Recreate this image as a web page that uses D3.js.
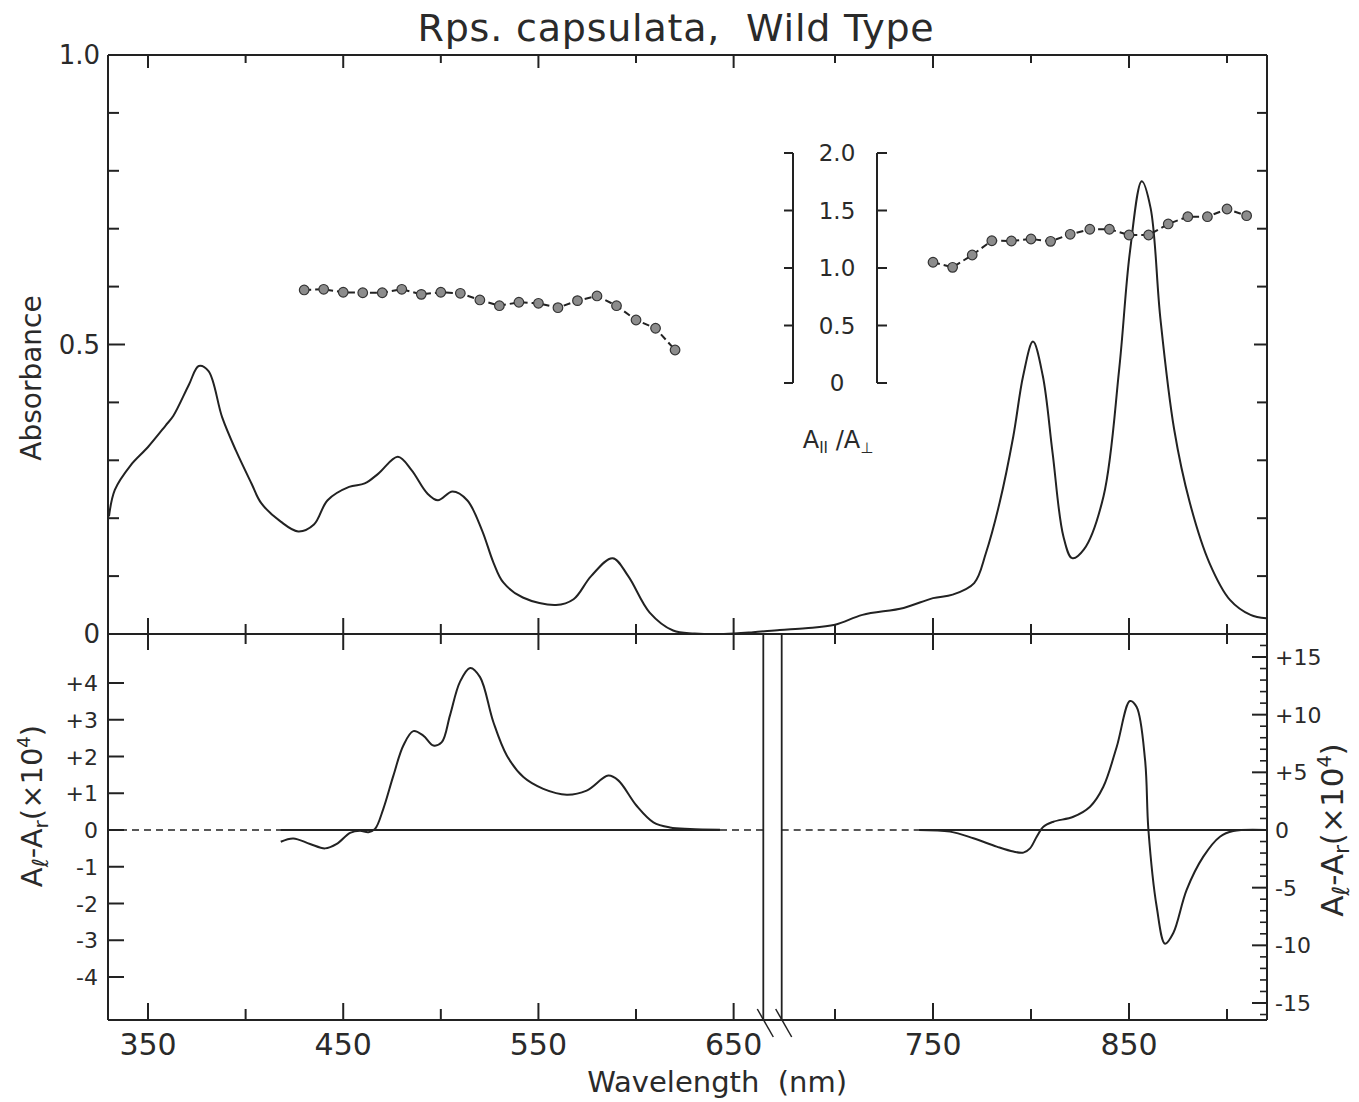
<!DOCTYPE html>
<html><head><meta charset="utf-8">
<script src="https://cdn.jsdelivr.net/npm/d3@7"></script>
<style>body{margin:0;background:#fff}svg{display:block}text{font-family:"DejaVu Sans",sans-serif;fill:#2a2a2a}</style>
</head><body><svg id="c" width="1359" height="1102"></svg>
<script>
// ---------- data ----------
const absWl  = [330,333,341,350,359,363,371,376,381,388,395,403,408,418,427,435,442,453,461,468,478,485,493,498.5,506,513.5,521,527,532,542,559,568,577,588,596,607,619,630,645,660,672,685,700,714,735,750,760,771,777,784,791,796,801,806,811,816.5,821,827,837,845,850.5,856.5,861,866,873,881,891,901.5,912,920];
const absVal = [0.203,0.249,0.291,0.323,0.360,0.377,0.431,0.463,0.454,0.374,0.317,0.260,0.226,0.194,0.177,0.189,0.231,0.254,0.260,0.277,0.306,0.283,0.243,0.231,0.246,0.231,0.180,0.123,0.089,0.063,0.050,0.060,0.100,0.131,0.100,0.037,0.006,0.001,0.000,0.003,0.007,0.010,0.016,0.033,0.045,0.062,0.068,0.088,0.140,0.227,0.342,0.446,0.505,0.446,0.313,0.169,0.131,0.146,0.238,0.458,0.661,0.782,0.736,0.545,0.354,0.227,0.123,0.059,0.033,0.027];

const ratioWlLeft  = [430,440,450,460,470,480,490,500,510,520,530,540,550,560,570,580,590,600,610,620];
const ratioValLeft = [0.809,0.815,0.789,0.785,0.785,0.815,0.771,0.789,0.780,0.722,0.672,0.702,0.693,0.655,0.716,0.757,0.672,0.548,0.476,0.287];
const ratioWlRight  = [750,760,770,780,790,800,810,820,830,840,850,860,870,880,890,900,910];
const ratioValRight = [1.050,1.006,1.113,1.237,1.235,1.252,1.232,1.293,1.337,1.337,1.287,1.287,1.383,1.446,1.446,1.513,1.455];

const cdLeftWl  = [418,424.4,433,440.7,446.7,453.5,458.6,462.9,466.3,470.5,475.7,480.8,485.9,491,496.2,500.5,504.7,509.8,515,520.1,526.9,533.8,542.3,552.5,564.5,574.7,585.8,590.9,600.3,608.9,617.4,627.7,643];
const cdLeftVal = [-0.32,-0.23,-0.38,-0.50,-0.38,-0.08,-0.02,-0.06,0.03,0.57,1.48,2.30,2.69,2.57,2.30,2.39,3.12,4.03,4.41,4.16,2.94,2.03,1.44,1.12,0.96,1.07,1.48,1.35,0.66,0.21,0.07,0.03,0.01];
const cdRightWl  = [743,758.7,770.6,782.5,791,796.1,799.5,802.9,806.3,811.4,821.6,830.1,836.9,843.7,850.5,853.9,858.2,859.9,864.1,868.4,872.6,879.4,887.9,896.4,903.2,920];
const cdRightVal = [0,-0.14,-0.72,-1.44,-1.87,-1.96,-1.59,-0.58,0.29,0.72,1.15,2.02,3.75,7.20,11.18,10.66,6.05,0,-6.63,-9.86,-8.93,-5.19,-2.31,-0.58,-0.09,0];

const xTicks = [350,400,450,500,550,600,650,700,750,800,850,900];
const xLabels = [350,450,550,650,750,850];
const absTicks = [0.1,0.2,0.3,0.4,0.5,0.6,0.7,0.8,0.9];
const absLabelVals = [0,0.5,1.0];
const absLabelText = ["0","0.5","1.0"];
const ratioTicks = [0,0.5,1.0,1.5,2.0];
const ratioLabelText = ["0","0.5","1.0","1.5","2.0"];
const cdLeftTicks = [4,3,2,1,0,-1,-2,-3,-4];
const cdLeftLabelText = ["+4","+3","+2","+1","0","-1","-2","-3","-4"];
const cdRightMajor = [15,10,5,0,-5,-10,-15];
const cdRightLabelText = ["+15","+10","+5","0","-5","-10","-15"];
const cdRightMinor = [-16,-14,-13,-12,-11,-9,-8,-7,-6,-4,-3,-2,-1,1,2,3,4,6,7,8,9,11,12,13,14,16];
const breakWl = [665.2,672.8];

// ---------- layout ----------
const L=108, R=1267, T=55, MID=634, B=1020;
const svg = d3.select("#c");
svg.append("rect").attr("width",1359).attr("height",1102).attr("fill","#fff");

const x = d3.scaleLinear().domain([329.5,665.2,672.8,920.4]).range([L,763.3,781.7,R]);
const yAbs = d3.scaleLinear().domain([0,1]).range([MID,T]);
const yRatio = d3.scaleLinear().domain([0,2]).range([383,153]);
const yCdL = d3.scaleLinear().domain([-4,4]).range([977,683]);
const yCdR = d3.scaleLinear().domain([-15,15]).range([1003,657]);

const ink = "#222";
const ax = svg.append("g").attr("stroke",ink).attr("stroke-width",2).attr("fill","none");
// frame
ax.append("line").attr("x1",L).attr("x2",L).attr("y1",T).attr("y2",B);
ax.append("line").attr("x1",R).attr("x2",R).attr("y1",T).attr("y2",B);
ax.append("line").attr("x1",L).attr("x2",R).attr("y1",T).attr("y2",T);
ax.append("line").attr("x1",L).attr("x2",R).attr("y1",MID).attr("y2",MID);
ax.append("line").attr("x1",L).attr("x2",R).attr("y1",B).attr("y2",B);
// break
breakWl.forEach(w=>{
  const bx = x(w);
  ax.append("line").attr("x1",bx).attr("x2",bx).attr("y1",MID).attr("y2",B).attr("stroke-width",1.8);
  ax.append("line").attr("x1",bx-6).attr("x2",bx+10).attr("y1",B-11).attr("y2",B+17).attr("stroke-width",1.5);
});
// x ticks
xTicks.forEach(w=>{
  const major = xLabels.includes(w);
  const xx = x(w);
  ax.append("line").attr("x1",xx).attr("x2",xx).attr("y1",T).attr("y2",T+(major?13:8));
  ax.append("line").attr("x1",xx).attr("x2",xx).attr("y1",MID-(major?16:10)).attr("y2",MID+(major?16:10));
  ax.append("line").attr("x1",xx).attr("x2",xx).attr("y1",B-(major?17:11)).attr("y2",B);
});
// absorbance ticks
absTicks.forEach(v=>{
  const yy=yAbs(v), major = Math.abs(v-0.5)<1e-9;
  ax.append("line").attr("x1",L).attr("x2",L+(major?17:11)).attr("y1",yy).attr("y2",yy);
  ax.append("line").attr("x1",R).attr("x2",R-(major?13:10)).attr("y1",yy).attr("y2",yy);
});
// cd left ticks
cdLeftTicks.forEach(v=>{
  const yy=yCdL(v);
  ax.append("line").attr("x1",L).attr("x2",L+16).attr("y1",yy).attr("y2",yy);
});
// cd right ticks
cdRightMajor.forEach(v=>{const yy=yCdR(v); ax.append("line").attr("x1",R).attr("x2",R-15).attr("y1",yy).attr("y2",yy);});
cdRightMinor.forEach(v=>{const yy=yCdR(v); ax.append("line").attr("x1",R).attr("x2",R-7).attr("y1",yy).attr("y2",yy).attr("stroke-width",1.6);});

// inset ratio axes
const insetL=793, insetR=877;
ax.append("line").attr("x1",insetL).attr("x2",insetL).attr("y1",yRatio(0)).attr("y2",yRatio(2));
ax.append("line").attr("x1",insetR).attr("x2",insetR).attr("y1",yRatio(0)).attr("y2",yRatio(2));
ratioTicks.forEach(v=>{
  const yy=yRatio(v);
  ax.append("line").attr("x1",insetL).attr("x2",insetL-9).attr("y1",yy).attr("y2",yy);
  ax.append("line").attr("x1",insetR).attr("x2",insetR+10).attr("y1",yy).attr("y2",yy);
});

// ---------- text ----------
const tx = svg.append("g");
tx.append("text").attr("x",676).attr("y",41).attr("text-anchor","middle").attr("font-size",38).attr("letter-spacing",0.8).attr("xml:space","preserve").text("Rps. capsulata,  Wild Type");
absLabelVals.forEach((v,i)=>{
  tx.append("text").attr("x",100).attr("y",yAbs(v)+9).attr("text-anchor","end").attr("font-size",26).text(absLabelText[i]);
});
cdLeftTicks.forEach((v,i)=>{
  tx.append("text").attr("x",98).attr("y",yCdL(v)+8).attr("text-anchor","end").attr("font-size",22).text(cdLeftLabelText[i]);
});
cdRightMajor.forEach((v,i)=>{
  tx.append("text").attr("x",1275).attr("y",yCdR(v)+8).attr("text-anchor","start").attr("font-size",22).text(cdRightLabelText[i]);
});
ratioTicks.forEach((v,i)=>{
  tx.append("text").attr("x",837).attr("y",yRatio(v)+8).attr("text-anchor","middle").attr("font-size",23).text(ratioLabelText[i]);
});
xLabels.forEach(w=>{
  tx.append("text").attr("x",x(w)).attr("y",1055).attr("text-anchor","middle").attr("font-size",30).text(w);
});
tx.append("text").attr("x",847).attr("y",1092).attr("text-anchor","end").attr("font-size",29).attr("xml:space","preserve").text("Wavelength  (nm)");
tx.append("text").attr("transform","translate(41,378) rotate(-90)").attr("text-anchor","middle").attr("font-size",28).text("Absorbance");

// A|| / A⊥
const rl = tx.append("text").attr("x",838).attr("y",448).attr("text-anchor","middle").attr("font-size",24);
rl.append("tspan").text("A");
rl.append("tspan").attr("font-size",15).attr("dy",5).text("II");
rl.append("tspan").attr("dy",-5).text(" /A");
rl.append("tspan").attr("font-size",15).attr("dy",5).text("⊥");

function cdLabel(tr, fs){
  const t = tx.append("text").attr("transform",tr).attr("text-anchor","middle").attr("font-size",fs);
  t.append("tspan").text("A");
  t.append("tspan").attr("font-size",fs*0.76).attr("font-style","italic").attr("dy",6).text("ℓ");
  t.append("tspan").attr("dy",-6).text("-A");
  t.append("tspan").attr("font-size",fs*0.7).attr("dy",6).text("r");
  t.append("tspan").attr("dy",-6).text("(×10");
  t.append("tspan").attr("font-size",fs*0.62).attr("dy",-12).text("4");
  t.append("tspan").attr("dy",12).text(")");
}
cdLabel("translate(42,806) rotate(-90)", 29);
cdLabel("translate(1343,830) rotate(-90)", 31);

// ---------- marks ----------
const curve = d3.curveCatmullRom.alpha(0.5);
const absData = absWl.map((w,i)=>[w,absVal[i]]);
svg.append("path").datum(absData).attr("fill","none").attr("stroke",ink).attr("stroke-width",2)
  .attr("d",d3.line().x(d=>x(d[0])).y(d=>yAbs(d[1])).curve(curve));

// ratio dots
[[ratioWlLeft,ratioValLeft],[ratioWlRight,ratioValRight]].forEach(([wl,val])=>{
  const d = wl.map((w,i)=>[w,val[i]]);
  svg.append("path").datum(d).attr("fill","none").attr("stroke",ink).attr("stroke-width",2).attr("stroke-dasharray","7,4")
    .attr("d",d3.line().x(p=>x(p[0])).y(p=>yRatio(p[1])));
  svg.append("g").selectAll("circle").data(d).join("circle")
    .attr("cx",p=>x(p[0])).attr("cy",p=>yRatio(p[1])).attr("r",4.8)
    .attr("fill","#8c8c8c").attr("stroke","#333").attr("stroke-width",1.2);
});

// cd zero lines
const z = svg.append("g").attr("stroke",ink).attr("fill","none");
[[329.5,665.2],[672.8,920.4]].forEach(([a,b])=>{
  z.append("line").attr("x1",x(a)).attr("x2",x(b)).attr("y1",yCdL(0)).attr("y2",yCdL(0)).attr("stroke-width",1.4).attr("stroke-dasharray","7,5");
});
z.append("line").attr("x1",x(cdLeftWl[0])).attr("x2",x(cdLeftWl[cdLeftWl.length-1])).attr("y1",yCdL(0)).attr("y2",yCdL(0)).attr("stroke-width",1.8);
z.append("line").attr("x1",x(cdRightWl[0])).attr("x2",x(cdRightWl[cdRightWl.length-1])).attr("y1",yCdR(0)).attr("y2",yCdR(0)).attr("stroke-width",1.8);

svg.append("path").datum(cdLeftWl.map((w,i)=>[w,cdLeftVal[i]])).attr("fill","none").attr("stroke",ink).attr("stroke-width",2)
  .attr("d",d3.line().x(d=>x(d[0])).y(d=>yCdL(d[1])).curve(curve));
svg.append("path").datum(cdRightWl.map((w,i)=>[w,cdRightVal[i]])).attr("fill","none").attr("stroke",ink).attr("stroke-width",2)
  .attr("d",d3.line().x(d=>x(d[0])).y(d=>yCdR(d[1])).curve(curve));
</script></body></html>
